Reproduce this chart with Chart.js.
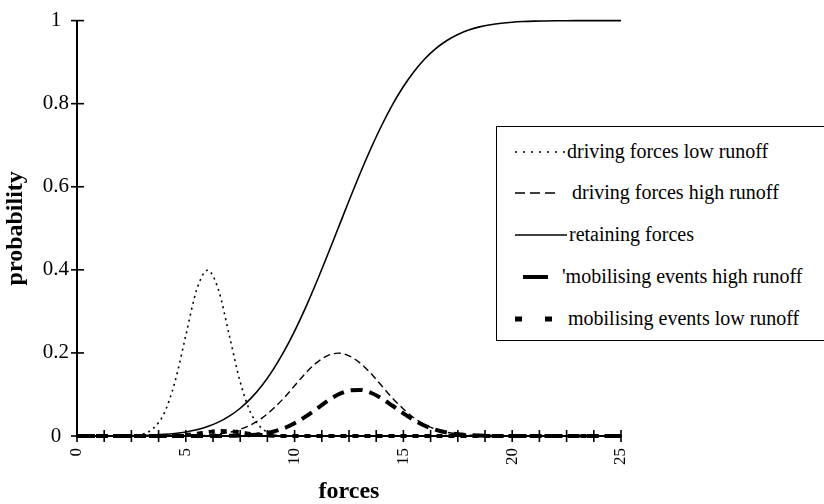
<!DOCTYPE html>
<html>
<head>
<meta charset="utf-8">
<script src="https://cdn.jsdelivr.net/npm/chart.js@4/dist/chart.umd.min.js"></script>
<style>
  html, body { margin: 0; padding: 0; background: #fff; }
  #wrap { position: relative; width: 824px; height: 504px; overflow: hidden; background: #fff; }
  #c { position: absolute; left: 0; top: 0; }
  #legend { position: absolute; left: 496px; top: 126px; width: 340px; height: 213px;
            border: 1px solid #000; background: #fff; font-family: "Liberation Serif", "Times New Roman", serif;
            font-size: 20px; color: #000; }
  #legend .t { position: absolute; line-height: 24px; white-space: nowrap; }
  #legend svg { position: absolute; left: 0; }
</style>
</head>
<body>
<div id="wrap">
  <canvas id="c" width="824" height="504"></canvas>
  <div id="legend"></div>
</div>
<script>
// ---- data ----
const forces = [0,0.5,1,1.5,2,2.5,3,3.5,4,4.5,5,5.5,6,6.5,7,7.5,8,8.5,9,9.5,10,10.5,11,11.5,12,12.5,13,13.5,14,14.5,15,15.5,16,16.5,17,17.5,18,18.5,19,19.5,20,20.5,21,21.5,22,22.5,23,23.5,24,24.5,25];

const drivingLow = [0,0,0,0,0,0,0.004,0.018,0.054,0.130,0.242,0.352,0.399,0.352,0.242,0.130,0.054,0.018,0.004,0,0,0,0,0,0,0,0,0,0,0,0,0,0,0,0,0,0,0,0,0,0,0,0,0,0,0,0,0,0,0,0];

const drivingHigh = [0,0,0,0,0,0,0,0,0,0,0.001,0.001,0.002,0.005,0.009,0.016,0.027,0.043,0.065,0.091,0.121,0.151,0.176,0.193,0.1995,0.193,0.176,0.151,0.121,0.091,0.065,0.043,0.027,0.016,0.009,0.005,0.002,0.001,0,0,0,0,0,0,0,0,0,0,0,0,0];

const retaining = [0,0,0,0.0001,0.0004,0.0008,0.0013,0.0023,0.0038,0.0062,0.0098,0.0151,0.0228,0.0334,0.0478,0.0668,0.0912,0.1217,0.1587,0.2023,0.2525,0.3085,0.3694,0.4338,0.5,0.5662,0.6306,0.6915,0.7475,0.7977,0.8413,0.8783,0.9088,0.9332,0.9522,0.9666,0.9772,0.9849,0.9902,0.9938,0.9962,0.9977,0.9987,0.9992,0.9996,0.9998,0.9999,1,1,1,1];

const mobilisingHigh = [0,0,0,0,0,0,0,0,0,0,0,0,0,0.0002,0.0004,0.0011,0.0025,0.0052,0.0103,0.0185,0.0306,0.0465,0.065,0.0839,0.0998,0.1094,0.111,0.1041,0.0904,0.0728,0.0545,0.0379,0.0245,0.0148,0.0084,0.0043,0.0021,0.001,0.0004,0,0,0,0,0,0,0,0,0,0,0,0];

const mobilisingLow = [0,0,0,0,0,0,0,0,0.0002,0.0008,0.0024,0.0053,0.0091,0.0118,0.0116,0.0087,0.0049,0.0022,0.0006,0.0001,0,0,0,0,0,0,0,0,0,0,0,0,0,0,0,0,0,0,0,0,0,0,0,0,0,0,0,0,0,0,0];

const xTickLabels = [0,5,10,15,20,25];
const yTickLabels = ['0','0.2','0.4','0.6','0.8','1'];
const seriesNames = ['driving forces low runoff','driving forces high runoff','retaining forces',"'mobilising events high runoff",'mobilising events low runoff'];

// ---- build ----
function pts(arr){ return forces.map((x,i)=>({x:x,y:arr[i]})); }

const SERIF = '"Liberation Serif", "Times New Roman", serif';

const crossTicks = {
  id: 'crossTicks',
  afterDatasetsDraw(chart){
    const ctx = chart.ctx;
    const xs = chart.scales.x, ys = chart.scales.y;
    ctx.save();
    ctx.strokeStyle = '#000';
    ctx.lineWidth = 1.6;
    xs.ticks.forEach(t=>{
      const px = xs.getPixelForValue(t.value);
      ctx.beginPath(); ctx.moveTo(px, ys.bottom-6); ctx.lineTo(px, ys.bottom+6); ctx.stroke();
    });
    ys.ticks.forEach(t=>{
      const py = ys.getPixelForValue(t.value);
      ctx.beginPath(); ctx.moveTo(xs.left-6, py); ctx.lineTo(xs.left+7, py); ctx.stroke();
    });
    ctx.restore();
  }
};

const common = { borderColor:'#000', backgroundColor:'#000', pointRadius:0, fill:false, cubicInterpolationMode:'monotone', clip:8 };

new Chart(document.getElementById('c'), {
  type: 'line',
  data: {
    datasets: [
      Object.assign({label: seriesNames[0], data: pts(drivingLow), borderWidth:1.6, borderDash:[2,4]}, common),
      Object.assign({label: seriesNames[1], data: pts(drivingHigh), borderWidth:1.4, borderDash:[7,4]}, common),
      Object.assign({label: seriesNames[2], data: pts(retaining), borderWidth:1.6}, common),
      Object.assign({label: seriesNames[3], data: pts(mobilisingHigh), borderWidth:4, borderDash:[12,7]}, common),
      Object.assign({label: seriesNames[4], data: pts(mobilisingLow), borderWidth:4, borderDash:[6,6]}, common)
    ]
  },
  options: {
    responsive: false,
    animation: false,
    events: [],
    layout: { padding: { left: 0, top: 16, right: 203, bottom: 0 } },
    plugins: { legend: { display: false }, tooltip: { enabled: false } },
    scales: {
      x: {
        type: 'linear', min: 0, max: 25,
        afterFit(s){ s.height = 68; },
        afterBuildTicks(s){
          const t = []; for (let i = 0; i <= 20; i++) t.push({value: i*1.25});
          s.ticks = t;
        },
        grid: { display: false, drawTicks: false },
        border: { display: true, color: '#000', width: 2 },
        ticks: {
          autoSkip: false, minRotation: 90, maxRotation: 90, padding: 12,
          color: '#000', font: { family: SERIF, size: 17 },
          callback(v){ return xTickLabels.includes(v) ? String(v) : ''; }
        },
        title: { display: true, text: 'forces', color: '#000', padding: {top:0, bottom:0},
                 font: { family: SERIF, size: 24, weight: 'bold', lineHeight: 1.0 } }
      },
      y: {
        min: 0, max: 1,
        afterFit(s){ s.width = 77; },
        afterBuildTicks(s){ s.ticks = yTickLabels.map(v=>({value: parseFloat(v)})); },
        grid: { display: false, drawTicks: false },
        border: { display: true, color: '#000', width: 2 },
        ticks: {
          padding: 8, crossAlign: 'center',
          color: '#000', font: { family: SERIF, size: 21 },
          callback(v){ const i = yTickLabels.findIndex(l=>parseFloat(l)===v); return i>=0 ? yTickLabels[i] : ''; }
        },
        title: { display: true, text: 'probability', color: '#000', padding: {top:1, bottom:0},
                 font: { family: SERIF, size: 24, weight: 'bold' } }
      }
    }
  },
  plugins: [crossTicks]
});

// ---- legend (HTML text) ----
const lg = document.getElementById('legend');
const rows = [
  { cy: 25, tx: 70, svg: '<line x1="18" y1="6" x2="68" y2="6" stroke="#000" stroke-width="1.6" stroke-dasharray="2,6"/>' },
  { cy: 66, tx: 75, svg: '<line x1="18" y1="6" x2="61" y2="6" stroke="#000" stroke-width="1.4" stroke-dasharray="10,5"/>' },
  { cy: 108, tx: 72, svg: '<line x1="18" y1="6" x2="70" y2="6" stroke="#000" stroke-width="1.6"/>' },
  { cy: 150, tx: 65, svg: '<line x1="26" y1="6" x2="51" y2="6" stroke="#000" stroke-width="4"/>' },
  { cy: 192, tx: 71, svg: '<line x1="18" y1="6" x2="25" y2="6" stroke="#000" stroke-width="5"/><line x1="48" y1="6" x2="55" y2="6" stroke="#000" stroke-width="5"/>' }
];
rows.forEach((r,i)=>{
  const s = document.createElementNS('http://www.w3.org/2000/svg','svg');
  s.setAttribute('width','90'); s.setAttribute('height','12');
  s.style.top = (r.cy-6)+'px';
  s.innerHTML = r.svg;
  lg.appendChild(s);
  const t = document.createElement('div');
  t.className = 't';
  t.style.left = r.tx+'px';
  t.style.top = (r.cy-13)+'px';
  t.textContent = seriesNames[i];
  lg.appendChild(t);
});
</script>
</body>
</html>
